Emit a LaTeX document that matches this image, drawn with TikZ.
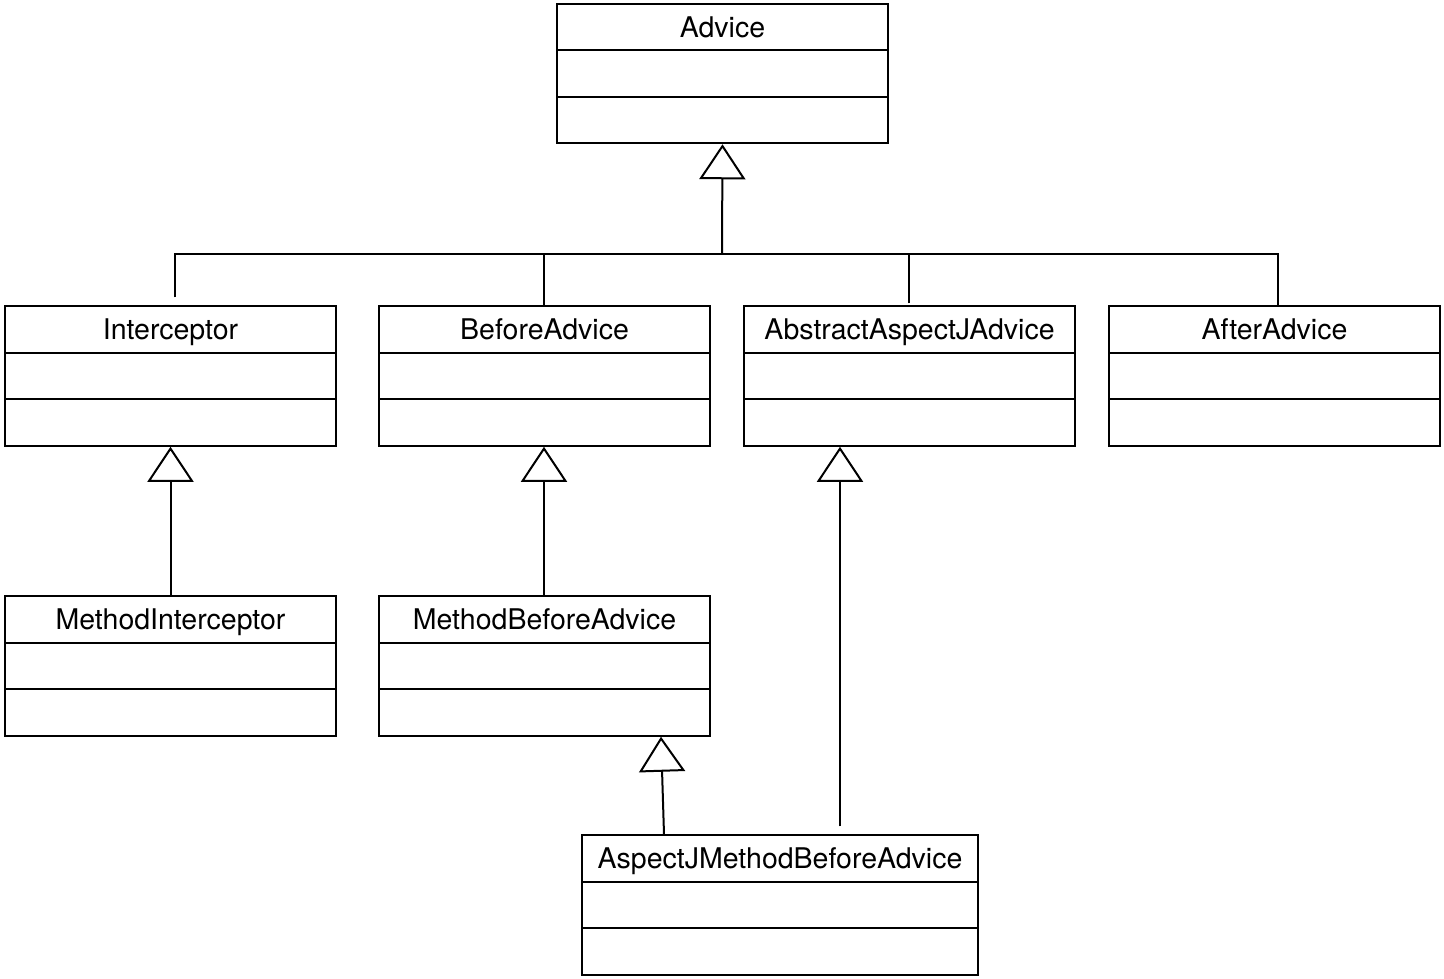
\documentclass[tikz,border=0pt]{standalone}
\usepackage{fontspec}
\setmainfont{TeX Gyre Heros}
\usetikzlibrary{shapes.multipart,arrows.meta}
\newcommand{\rowstrut}{\rule[-12pt]{0pt}{44.5pt}}

\begin{document}
\begin{tikzpicture}[x=1pt, y=-1pt, line width=2pt,
  every node/.style={font=\fontsize{28.5}{32}\selectfont},
  umlclass/.style={draw, rectangle split, rectangle split parts=3, inner ysep=0pt, inner xsep=4pt, minimum width=331pt},
  inherit/.style={-{Triangle[open, length=35pt, width=46pt]}, line join=miter}]
  \useasboundingbox (0,0) rectangle (1444,978);

  \node (advice) at (722.5,73.5) [umlclass] {\rowstrut Advice\nodepart{two}\rowstrut\nodepart{three}\rowstrut};
  \node (ic) at (170.5,376) [umlclass] {\rowstrut Interceptor\nodepart{two}\rowstrut\nodepart{three}\rowstrut};
  \node (ba) at (544.5,376) [umlclass] {\rowstrut BeforeAdvice\nodepart{two}\rowstrut\nodepart{three}\rowstrut};
  \node (aaj) at (909.5,376) [umlclass] {\rowstrut AbstractAspectJAdvice\nodepart{two}\rowstrut\nodepart{three}\rowstrut};
  \node (aa) at (1274.5,376) [umlclass] {\rowstrut AfterAdvice\nodepart{two}\rowstrut\nodepart{three}\rowstrut};
  \node (mi) at (170.5,666) [umlclass] {\rowstrut MethodInterceptor\nodepart{two}\rowstrut\nodepart{three}\rowstrut};
  \node (mba) at (544.5,666) [umlclass] {\rowstrut MethodBeforeAdvice\nodepart{two}\rowstrut\nodepart{three}\rowstrut};
  \node (ajmba) at (780,905) [umlclass, minimum width=396pt] {\rowstrut AspectJMethodBeforeAdvice\nodepart{two}\rowstrut\nodepart{three}\rowstrut};

  % generalisation tree up to Advice
  \coordinate (bus) at (722,254);
  \draw[inherit] (bus) -- (advice.south);
  \draw ([xshift=4.5pt,yshift=8pt]ic.north) |- (bus);
  \draw ([xshift=-0.5pt]ba.north) |- (bus);
  \draw ([xshift=-0.5pt,yshift=2pt]aaj.north) |- (bus);
  \draw ([xshift=3.5pt]aa.north) |- (bus);

  % single generalisations
  \draw[inherit] (mi.north) -- (ic.south);
  \draw[inherit] ([xshift=-0.5pt]mba.north) -- ([xshift=-0.5pt]ba.south);
  \draw[inherit] ([xshift=60pt,yshift=8pt]ajmba.north) -- ([xshift=-69.5pt]aaj.south);
  \draw[inherit] ([xshift=-116pt]ajmba.north) -- ([xshift=116.5pt]mba.south);
\end{tikzpicture}
\end{document}
